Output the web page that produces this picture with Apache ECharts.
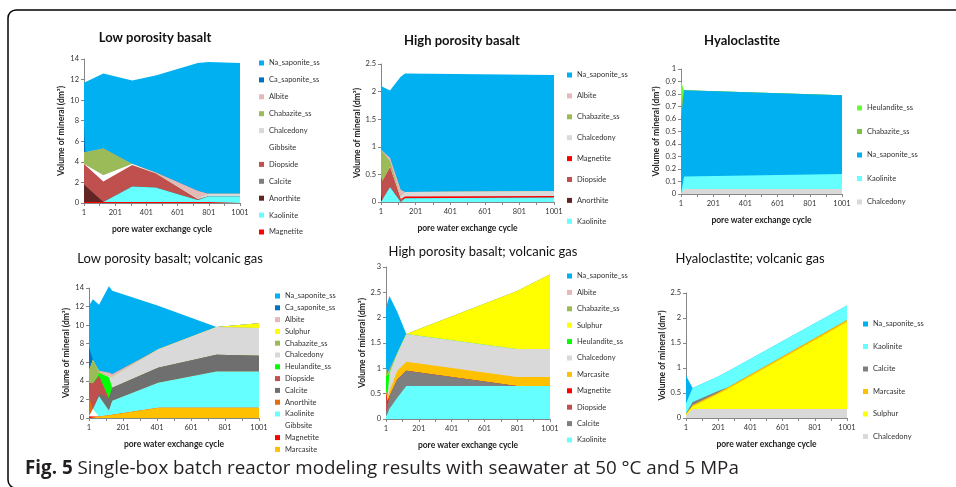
<!DOCTYPE html>
<html>
<head>
<meta charset="utf-8">
<script src="https://cdn.jsdelivr.net/npm/echarts@6/dist/echarts.min.js"></script>
<style>
html, body { margin: 0; padding: 0; background: #fff; }
#charts { width: 956px; height: 487px; }
</style>
</head>
<body>
<div id="charts"></div>
<script>
// tick labels on the cycle axis
var cycleLabels = [1, 201, 401, 601, 801, 1001];
var cycleTicks = [1, 101, 201, 301, 401, 501, 601, 701, 801, 901, 1001];

// Low porosity basalt (stack order bottom -> top, volumes in dm3 per layer)
var lowCycles = [1, 10, 125, 310, 460, 730, 800, 1001];
var lowMinerals = ['Magnetite', 'Kaolinite', 'Anorthite', 'Calcite', 'Diopside', 'Gibbsite', 'Chalcedony', 'Chabazite_ss', 'Albite', 'Ca_saponite_ss', 'Na_saponite_ss'];
var lowVolumes = [
  [0.1, 0.1, 0.1, 0.1, 0.1, 0.1, 0.1, 0.1],
  [0, 0, 0, 1.5, 1.4, 0.2, 0.55, 0.55],
  [1.7, 1.6, 0, 0, 0, 0, 0, 0],
  [0, 0, 0, 0, 0, 0, 0, 0],
  [2.0, 2.0, 2.0, 2.1, 1.4, 0.1, 0, 0],
  [0, 0, 0.6, 0.1, 0, 0, 0, 0],
  [0, 0, 0, 0, 0.05, 0.1, 0.25, 0.25],
  [1.1, 1.1, 2.6, 0, 0, 0, 0, 0],
  [0, 0, 0, 0, 0.05, 0.7, 0, 0],
  [2.5, 0, 0, 0, 0, 0, 0, 0],
  [4.3, 7.0, 7.3, 8.1, 9.4, 12.4, 12.8, 12.7]
];

// High porosity basalt
var highCycles = [1, 10, 53, 115, 140, 1001];
var highMinerals = ['Kaolinite', 'Anorthite', 'Diopside', 'Magnetite', 'Chalcedony', 'Chabazite_ss', 'Albite', 'Na_saponite_ss'];
var highVolumes = [
  [0, 0.02, 0.27, 0, 0.07, 0.08],
  [0.15, 0, 0, 0, 0, 0],
  [0.3, 0.35, 0.35, 0.05, 0, 0],
  [0, 0, 0, 0, 0.03, 0.03],
  [0, 0, 0.02, 0.05, 0.08, 0.09],
  [0.5, 0.6, 0.1, 0, 0, 0],
  [0, 0, 0.06, 0.12, 0, 0],
  [1.15, 1.16, 1.22, 2.05, 2.15, 2.1]
];

// Hyaloclastite
var hyaCycles = [1, 20, 1001];
var hyaMinerals = ['Chalcedony', 'Kaolinite', 'Na_saponite_ss', 'Chabazite_ss', 'Heulandite_ss'];
var hyaVolumes = [
  [0, 0.04, 0.04],
  [0, 0.1, 0.12],
  [0.6, 0.69, 0.63],
  [0.1, 0, 0],
  [0.2, 0, 0]
];

// Low porosity basalt; volcanic gas
var lowGasCycles = [1, 24, 60, 118, 138, 408, 751, 1001];
var lowGasMinerals = ['Marcasite', 'Magnetite', 'Gibbsite', 'Kaolinite', 'Anorthite', 'Calcite', 'Diopside', 'Heulandite_ss', 'Chalcedony', 'Chabazite_ss', 'Sulphur', 'Albite', 'Ca_saponite_ss', 'Na_saponite_ss'];
var lowGasVolumes = [
  [0, 0.05, 0.15, 0.3, 0.35, 1.1, 1.1, 1.1],
  [0.2, 0.1, 0, 0, 0, 0, 0, 0],
  [0, 0.8, 0, 0, 0, 0, 0, 0],
  [0, 0, 2.2, 0.5, 1.5, 2.7, 3.9, 3.9],
  [2.2, 0, 0, 0, 0, 0, 0, 0],
  [0, 0, 0.3, 1.3, 1.4, 1.6, 1.8, 1.7],
  [1.4, 2.8, 1.9, 0, 0, 0, 0, 0],
  [0, 0, 0.3, 2.3, 0, 0, 0, 0],
  [0, 0, 0, 0.1, 1.2, 2.0, 3.0, 3.0],
  [1.3, 2.5, 0.1, 0, 0, 0, 0, 0],
  [0, 0, 0, 0, 0, 0, 0, 0.5],
  [0, 0, 0.15, 0.4, 0.3, 0, 0, 0],
  [2.5, 0, 0, 0, 0, 0, 0, 0],
  [4.5, 6.55, 7.1, 9.3, 8.95, 4.7, 0, 0]
];

// High porosity basalt; volcanic gas
var highGasCycles = [1, 10, 22, 70, 125, 798, 1001];
var highGasMinerals = ['Kaolinite', 'Calcite', 'Diopside', 'Magnetite', 'Marcasite', 'Chalcedony', 'Heulandite_ss', 'Sulphur', 'Chabazite_ss', 'Albite', 'Na_saponite_ss'];
var highGasVolumes = [
  [0.05, 0.1, 0.2, 0.42, 0.65, 0.65, 0.65],
  [0.1, 0.1, 0.25, 0.36, 0.3, 0, 0],
  [0.35, 0.1, 0, 0, 0, 0, 0],
  [0.05, 0.05, 0, 0, 0, 0, 0],
  [0, 0.05, 0.1, 0.17, 0.18, 0.18, 0.18],
  [0, 0.05, 0.35, 0.35, 0.55, 0.55, 0.55],
  [0.3, 0.4, 0, 0, 0, 0, 0],
  [0, 0, 0, 0, 0, 1.14, 1.47],
  [0.15, 0.05, 0, 0, 0, 0, 0],
  [0, 0, 0, 0, 0, 0, 0],
  [1.17, 1.4, 1.53, 0.81, 0, 0, 0]
];

// Hyaloclastite; volcanic gas
var hyaGasCycles = [1, 42, 201, 260, 1001];
var hyaGasMinerals = ['Chalcedony', 'Sulphur', 'Marcasite', 'Calcite', 'Kaolinite', 'Na_saponite_ss'];
var hyaGasVolumes = [
  [0.05, 0.18, 0.18, 0.18, 0.18],
  [0.02, 0.05, 0.3, 0.4, 1.74],
  [0.01, 0.03, 0.03, 0.03, 0.04],
  [0.01, 0.06, 0.03, 0, 0],
  [0.2, 0.28, 0.29, 0.32, 0.29],
  [0.56, 0, 0, 0, 0]
];

var colors = {
  Na_saponite_ss: '#00B0F0',
  Ca_saponite_ss: '#0070C0',
  Albite: '#E6B9B8',
  Chabazite_ss: '#9BBB59',
  Chalcedony: '#D9D9D9',
  Gibbsite: '#FFFFFF',
  Diopside: '#C0504D',
  Calcite: '#7F7F7F',
  Anorthite: '#632523',
  Kaolinite: '#66FFFF',
  Magnetite: '#FF0000',
  Sulphur: '#FFFF00',
  Heulandite_ss: '#00FF00',
  Marcasite: '#FFC000'
};

var panels = [
  { title: 'Low porosity basalt', tx: 155, ty: 38, bold: true,
    cycles: lowCycles, minerals: lowMinerals, volumes: lowVolumes,
    grid: { left: 84, right: 716, top: 59, bottom: 284 }, yMax: 14, yStep: 2,
    legend: { left: 259, top: 59, gap: 8.9 } },
  { title: 'High porosity basalt', tx: 462, ty: 41, bold: true,
    cycles: highCycles, minerals: highMinerals, volumes: highVolumes,
    grid: { left: 381, right: 402, top: 64, bottom: 285 }, yMax: 2.5, yStep: 0.5,
    legend: { left: 567, top: 71, gap: 12.9 } },
  { title: 'Hyaloclastite', tx: 742, ty: 41, bold: true,
    cycles: hyaCycles, minerals: hyaMinerals, volumes: hyaVolumes,
    grid: { left: 681, right: 114, top: 69, bottom: 293 }, yMax: 1, yStep: 0.1,
    legend: { left: 857, top: 104, gap: 15.5 },
    override: { Heulandite_ss: '#66FF33', Chabazite_ss: '#7FC241' } },
  { title: 'Low porosity basalt; volcanic gas', tx: 170, ty: 259, bold: false,
    cycles: lowGasCycles, minerals: lowGasMinerals, volumes: lowGasVolumes,
    grid: { left: 89, right: 697, top: 288, bottom: 69 }, yMax: 14, yStep: 2,
    legend: { left: 275, top: 292, gap: 3.8 },
    override: { Anorthite: '#E46C0A', Calcite: '#6F6F6F' } },
  { title: 'High porosity basalt; volcanic gas', tx: 483, ty: 252, bold: false,
    cycles: highGasCycles, minerals: highGasMinerals, volumes: highGasVolumes,
    grid: { left: 386, right: 406, top: 267, bottom: 68 }, yMax: 3, yStep: 0.5,
    legend: { left: 567, top: 272, gap: 8.4 } },
  { title: 'Hyaloclastite; volcanic gas', tx: 750, ty: 259, bold: false,
    cycles: hyaGasCycles, minerals: hyaGasMinerals, volumes: hyaGasVolumes,
    grid: { left: 686, right: 109, top: 293, bottom: 69 }, yMax: 2.5, yStep: 0.5,
    legend: { left: 863, top: 320, gap: 14.5 } }
];

var font = 'Lato';
var axisColor = '#868686';

var grids = [], xAxes = [], yAxes = [], legends = [], series = [];
var graphics = [
  { type: 'rect', shape: { x: 8, y: 10, width: 1000, height: 478, r: 8 },
    style: { fill: 'none', stroke: '#000', lineWidth: 1.5 } },
  { type: 'text', x: 25, y: 469,
    style: { text: '{b|Fig. 5} Single-box batch reactor modeling results with seawater at 50 °C and 5 MPa',
      fontSize: 18.8, fontFamily: 'Open Sans', fill: '#231F20', textVerticalAlign: 'middle',
      rich: { b: { fontWeight: 'bold', fontSize: 18.8, fontFamily: 'Open Sans', fill: '#231F20' } } } }
];

panels.forEach(function (p, i) {
  var colorOf = function (name) {
    return (p.override && p.override[name]) || colors[name];
  };
  grids.push({ left: p.grid.left, right: p.grid.right, top: p.grid.top, bottom: p.grid.bottom, outerBoundsMode: 'none' });
  xAxes.push({
    type: 'value', gridIndex: i, min: 1, max: 1001,
    name: 'pore water exchange cycle', nameLocation: 'middle', nameGap: 22,
    nameTextStyle: { fontFamily: font, fontSize: 8.5, fontWeight: 'bold', color: '#222' },
    axisLine: { show: true, lineStyle: { color: axisColor, width: 1 } },
    axisTick: { show: true, length: 3, customValues: cycleTicks, lineStyle: { color: axisColor } },
    axisLabel: { customValues: cycleLabels, fontFamily: font, fontSize: 7.5, color: '#333', margin: 6,
      formatter: function (v) { return String(v); } },
    splitLine: { show: false }
  });
  yAxes.push({
    type: 'value', gridIndex: i, min: 0, max: p.yMax, interval: p.yStep,
    name: 'Volume of mineral (dm³)', nameLocation: 'middle', nameGap: p.yStep < 0.5 ? 20 : 18,
    nameTextStyle: { fontFamily: font, fontSize: 8.5, fontWeight: 'bold', color: '#222' },
    axisLine: { show: true, lineStyle: { color: axisColor, width: 1 } },
    axisTick: { show: true, length: 3, lineStyle: { color: axisColor } },
    axisLabel: { fontFamily: font, fontSize: 7.5, color: '#333', margin: 5 },
    splitLine: { show: false }
  });
  legends.push({
    orient: 'vertical', left: p.legend.left, top: p.legend.top, itemGap: p.legend.gap,
    itemWidth: 5, itemHeight: 5, icon: 'rect', selectedMode: false, padding: 0,
    textStyle: { fontFamily: font, fontSize: 7.5, color: '#333' },
    data: p.minerals.slice().reverse().map(function (m) {
      return { name: m, itemStyle: { color: colorOf(m) } };
    })
  });
  // running totals: the top edge of each layer, bottom layer first
  var tops = [];
  p.minerals.forEach(function (m, j) {
    tops.push(p.cycles.map(function (c, k) {
      return (j > 0 ? tops[j - 1][k] : 0) + p.volumes[j][k];
    }));
  });
  // draw the highest layer first, each lower one painted over it
  for (var j = p.minerals.length - 1; j >= 0; j--) {
    var m = p.minerals[j];
    series.push({
      name: m, type: 'line', xAxisIndex: i, yAxisIndex: i,
      symbol: 'none', clip: false, silent: true,
      lineStyle: { width: 0, color: colorOf(m) },
      itemStyle: { color: colorOf(m) },
      areaStyle: { color: colorOf(m), opacity: 1 },
      data: p.cycles.map(function (c, k) { return [c, +tops[j][k].toFixed(3)]; })
    });
  }
  graphics.push({
    type: 'text', x: p.tx, y: p.ty,
    style: { text: p.title, fontSize: 13, fontFamily: font, fontWeight: p.bold ? 'bold' : 'normal',
      fill: '#111', textAlign: 'center', textVerticalAlign: 'middle' }
  });
});

var chartDom = document.getElementById('charts');
var myChart = echarts.init(chartDom, null, { renderer: 'canvas' });
var option = {
  backgroundColor: '#fff',
  animation: false,
  grid: grids,
  xAxis: xAxes,
  yAxis: yAxes,
  legend: legends,
  series: series,
  graphic: graphics
};
myChart.setOption(option);
</script>
</body>
</html>
